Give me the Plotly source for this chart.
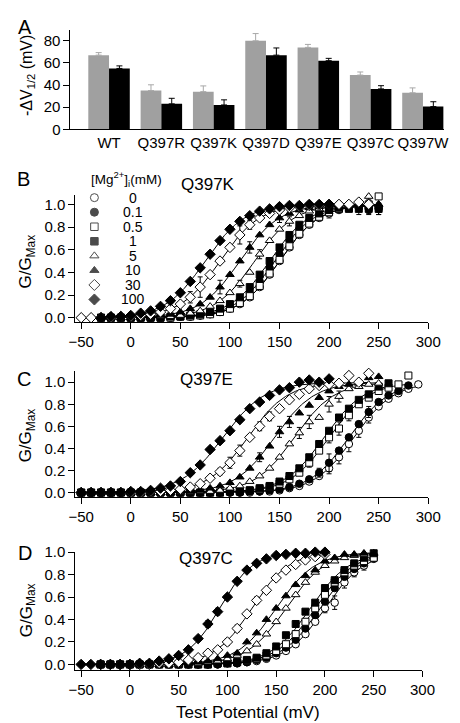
import math
import plotly.graph_objects as go

# ---------------- data ----------------
A_CATEGORIES = ['WT', 'Q397R', 'Q397K', 'Q397D', 'Q397E', 'Q397C', 'Q397W']
A_GRAY = [67, 35, 34, 80, 74, 49, 33]
A_GRAY_ERR = [2.3, 5.2, 5.2, 6.5, 2.7, 2.8, 4.4]
A_BLACK = [55, 23, 22, 67, 62, 36.5, 20.5]
A_BLACK_ERR = [2.3, 5.0, 4.6, 6.5, 2.1, 2.9, 4.4]
A_TICKS = [0, 20, 40, 60, 80]

CONC = ['0', '0.1', '0.5', '1', '5', '10', '30', '100']

# test potentials (mV)
V_B = [-30, -20, -10, 0, 10, 20, 30, 40, 50, 60, 70, 80, 90, 100, 110, 120, 130, 140,
       150, 160, 170, 180, 190, 200, 210, 220, 230, 240, 250]
V_B30 = [-50, -40, -30, -20, -10, 0, 10, 20, 30, 40, 50, 60, 70, 80, 90, 100, 110, 120,
         130, 140, 150, 160, 170, 180, 190, 200, 210, 220, 230, 240]
V_C = [-50, -40, -30, -20, -10, 0, 10, 20, 30, 40, 50, 60, 70, 80, 90, 100, 110, 120,
       130, 140, 150, 160, 170, 180, 190, 200, 210, 220, 230, 240, 250, 260, 270, 280, 290]
V_D = [-30, -20, -10, 0, 10, 20, 30, 40, 50, 60, 70, 80, 90, 100, 110, 120, 130, 140,
       150, 160, 170, 180, 190, 200, 210, 220, 230, 240, 250]
V_D100 = [-50, -40, -30, -20, -10, 0, 10, 20, 30, 40, 50, 60, 70, 80, 90, 100, 110, 120,
          130, 140, 150, 160, 170, 180, 190, 200]

# Panel B  (Q397K)  G/Gmax
G_B_0 = [0, 0, 0, 0, 0, 0, 0, 0, 0.01, 0.01, 0.02, 0.03, 0.05, 0.08, 0.12, 0.18, 0.27, 0.38,
         0.50, 0.62, 0.73, 0.82, 0.88, 0.92, 0.95, 0.97, 0.98, 0.97, 0.96]
G_B_01 = [0, 0, 0, 0, 0, 0, 0, 0, 0.01, 0.01, 0.02, 0.04, 0.06, 0.10, 0.15, 0.22, 0.32, 0.44,
          0.56, 0.68, 0.78, 0.85, 0.90, 0.94, 0.96, 0.98, 0.97, 0.96, 0.97]
G_B_05 = [0, 0, 0, 0, 0, 0, 0, 0, 0.01, 0.01, 0.02, 0.03, 0.05, 0.08, 0.13, 0.19, 0.28, 0.39,
          0.51, 0.63, 0.74, 0.83, 0.89, 0.93, 0.96, 0.97, 0.99, 1.00, 1.07]
G_B_1 = [0, 0, 0, 0, 0, 0, 0, 0.01, 0.01, 0.02, 0.03, 0.05, 0.08, 0.12, 0.18, 0.27, 0.38, 0.50,
         0.62, 0.73, 0.82, 0.88, 0.92, 0.95, 0.97, 0.96, 0.96, 0.96, 0.96]
G_B_5 = [0, 0, 0, 0, 0, 0, 0.01, 0.01, 0.02, 0.04, 0.06, 0.10, 0.15, 0.22, 0.30, 0.40, 0.56,
         0.68, 0.78, 0.85, 0.90, 0.94, 0.96, 0.98, 0.99, 0.99, 1.00, 1.07, 1.00]
G_B_10 = [0, 0, 0, 0, 0.01, 0.01, 0.02, 0.03, 0.05, 0.08, 0.12, 0.18, 0.27, 0.38, 0.50, 0.62,
          0.73, 0.82, 0.88, 0.92, 0.95, 0.97, 0.98, 0.99, 0.99, 1.00, 1.00, 1.00, 1.00]
G_B_30 = [0, 0, 0, 0, 0.01, 0.01, 0.02, 0.03, 0.05, 0.08, 0.12, 0.18, 0.27, 0.38, 0.50, 0.62,
          0.73, 0.82, 0.88, 0.92, 0.95, 0.97, 0.98, 0.99, 0.99, 1.00, 1.00, 1.00, 1.02, 1.00]
G_B_100 = [0, 0.01, 0.01, 0.02, 0.04, 0.06, 0.10, 0.15, 0.22, 0.32, 0.44, 0.56, 0.68, 0.78,
           0.85, 0.90, 0.94, 0.96, 0.98, 0.99, 0.99, 1.00, 1.00, 1.00]

# Panel C  (Q397E)
G_C_0 = [0] * 18 + [0.01, 0.01, 0.02, 0.04, 0.06, 0.10, 0.15, 0.22, 0.32, 0.44, 0.56, 0.68,
                    0.78, 0.85, 0.90, 0.94, 0.98]
G_C_01 = [0] * 17 + [0.01, 0.01, 0.02, 0.03, 0.05, 0.08, 0.12, 0.18, 0.27, 0.38, 0.50, 0.62,
                     0.73, 0.82, 0.88, 0.92, 0.97]
G_C_05 = [0] * 15 + [0.01, 0.01, 0.02, 0.03, 0.05, 0.08, 0.12, 0.18, 0.27, 0.38, 0.50, 0.58,
                     0.70, 0.80, 0.86, 0.92, 0.95, 0.98, 1.06]
G_C_1 = [0] * 15 + [0.01, 0.01, 0.02, 0.04, 0.06, 0.10, 0.15, 0.22, 0.32, 0.44, 0.56, 0.68,
                    0.76, 0.84, 0.89, 0.96, 0.99]
G_C_5 = [0] * 12 + [0.01, 0.01, 0.02, 0.04, 0.06, 0.10, 0.15, 0.22, 0.32, 0.44, 0.54, 0.64,
                    0.68, 0.80, 0.87, 0.94, 0.96, 0.98, 0.99]
G_C_10 = [0] * 10 + [0.01, 0.01, 0.02, 0.04, 0.06, 0.09, 0.14, 0.22, 0.32, 0.42, 0.55, 0.64,
                     0.72, 0.79, 0.86, 0.92, 0.96, 0.98, 0.99, 1.04, 1.05]
G_C_30 = [0] * 7 + [0.01, 0.01, 0.02, 0.03, 0.05, 0.08, 0.13, 0.19, 0.27, 0.38, 0.50, 0.60,
                    0.69, 0.76, 0.84, 0.89, 0.94, 0.97, 0.98, 0.99, 1.06, 1.00, 1.08]
G_C_100 = [0] * 5 + [0.01, 0.01, 0.02, 0.04, 0.06, 0.10, 0.18, 0.25, 0.39, 0.47, 0.56, 0.66,
                     0.76, 0.82, 0.88, 0.93, 0.95, 1.00, 1.02, 1.00, 1.03]

# Panel D  (Q397C)
G_D_0 = [0] * 13 + [0.01, 0.01, 0.02, 0.03, 0.05, 0.08, 0.12, 0.18, 0.27, 0.38, 0.50, 0.55,
                    0.73, 0.82, 0.88, 0.95]
G_D_01 = [0] * 13 + [0.01, 0.01, 0.02, 0.04, 0.06, 0.10, 0.15, 0.22, 0.32, 0.44, 0.56, 0.68,
                     0.78, 0.85, 0.90, 0.94]
G_D_05 = [0] * 12 + [0.01, 0.01, 0.02, 0.03, 0.05, 0.08, 0.12, 0.18, 0.27, 0.38, 0.50, 0.62,
                     0.73, 0.82, 0.88, 0.92, 0.95]
G_D_1 = [0] * 12 + [0.01, 0.01, 0.02, 0.04, 0.06, 0.10, 0.16, 0.26, 0.36, 0.47, 0.55, 0.68,
                    0.75, 0.84, 0.90, 0.95, 0.99]
G_D_5 = [0] * 9 + [0.01, 0.01, 0.02, 0.03, 0.05, 0.08, 0.12, 0.18, 0.27, 0.38, 0.50, 0.62,
                   0.73, 0.82, 0.88, 0.92, 0.95, 0.97, 0.98, 0.99]
G_D_10 = [0] * 8 + [0.01, 0.01, 0.02, 0.03, 0.05, 0.08, 0.10, 0.20, 0.28, 0.40, 0.50, 0.61,
                    0.71, 0.79, 0.84, 0.92, 0.95, 0.98, 0.98, 0.99, 0.99]
G_D_30 = [0] * 6 + [0.01, 0.01, 0.02, 0.04, 0.06, 0.10, 0.13, 0.20, 0.32, 0.45, 0.57, 0.66,
                    0.77, 0.84, 0.89, 0.93, 0.96, 0.98]
G_D_100 = [0] * 6 + [0.01, 0.01, 0.03, 0.05, 0.08, 0.13, 0.23, 0.36, 0.47, 0.60, 0.74, 0.84,
                     0.90, 0.94, 0.97, 0.98, 0.99, 0.99, 1.00, 1.00]

# visible error bars: (potentials, s.e.m.)
ERR_B = {'0': ([200, 240, 250], [0.04, 0.05, 0.05]),
         '1': ([230, 240, 250], [0.05, 0.05, 0.05]),
         '5': ([110, 130, 160, 240], [0.03, 0.04, 0.04, 0.03]),
         '10': ([90, 120, 150], [0.06, 0.05, 0.04]),
         '30': ([60, 70, 110, 120], [0.05, 0.09, 0.08, 0.04])}
ERR_C = {'0': ([200, 210, 220, 230, 240], [0.05, 0.06, 0.07, 0.06, 0.05]),
         '0.1': ([190, 200, 240], [0.04, 0.08, 0.05]),
         '0.5': ([180, 200, 210, 220], [0.04, 0.05, 0.06, 0.05]),
         '5': ([170, 180, 200, 210], [0.05, 0.06, 0.07, 0.05]),
         '10': ([130, 150, 160], [0.04, 0.05, 0.05]),
         '30': ([90, 100, 110, 130, 140], [0.03, 0.05, 0.05, 0.04, 0.04])}
ERR_D = {'0': ([200, 210, 220, 230, 240, 250], [0.04, 0.06, 0.05, 0.04, 0.04, 0.03]),
         '30': ([100, 110, 130], [0.03, 0.03, 0.03]),
         '100': ([80, 90], [0.03, 0.03])}

# Boltzmann fit parameters (V1/2 mV, slope mV)
FIT_B = {'0': (150, 20), '0.1': (145, 20), '0.5': (150, 20), '1': (140, 20),
         '5': (125, 20), '10': (110, 20), '30': (90, 20), '100': (75, 20)}
FIT_C = {'0': (225, 20), '0.1': (220, 20), '0.5': (200, 20), '1': (195, 20),
         '5': (165, 20), '10': (145, 20), '30': (118, 20), '100': (93, 21)}
FIT_D = {'0': (200, 20), '0.1': (195, 20), '0.5': (190, 20), '1': (185, 20),
         '5': (160, 20), '10': (150, 20), '30': (125, 19), '100': (92, 17)}

PANEL_B = {'0': (V_B, G_B_0), '0.1': (V_B, G_B_01), '0.5': (V_B, G_B_05), '1': (V_B, G_B_1),
           '5': (V_B, G_B_5), '10': (V_B, G_B_10), '30': (V_B30, G_B_30), '100': (V_B, G_B_100)}
PANEL_C = {'0': (V_C, G_C_0), '0.1': (V_C, G_C_01), '0.5': (V_C, G_C_05), '1': (V_C, G_C_1),
           '5': (V_C, G_C_5), '10': (V_C, G_C_10), '30': (V_C, G_C_30), '100': (V_C, G_C_100)}
PANEL_D = {'0': (V_D, G_D_0), '0.1': (V_D, G_D_01), '0.5': (V_D, G_D_05), '1': (V_D, G_D_1),
           '5': (V_D, G_D_5), '10': (V_D, G_D_10), '30': (V_D, G_D_30), '100': (V_D100, G_D_100)}

X_TICKS = [-50, 0, 50, 100, 150, 200, 250, 300]
Y_TICKS = [0.0, 0.2, 0.4, 0.6, 0.8, 1.0]

# ---------------- style ----------------
W, H = 460, 723
FONT = "Arial, Liberation Sans, sans-serif"


def fx(px):
    return px / W


def fy(py):
    return 1 - py / H


SYM = {'0': ('circle', False, 7.5), '0.1': ('circle', True, 7.5),
       '0.5': ('square', False, 7), '1': ('square', True, 7),
       '5': ('triangle-up', False, 7.5), '10': ('triangle-up', True, 7.5),
       '30': ('diamond', False, 8), '100': ('diamond', True, 8)}

fig = go.Figure()

# ---------- Panel A ----------
fig.add_trace(go.Bar(x=A_CATEGORIES, y=A_GRAY, xaxis='x', yaxis='y',
                     marker=dict(color='#a0a0a0', line=dict(width=0)),
                     error_y=dict(type='data', symmetric=False, array=A_GRAY_ERR,
                                  arrayminus=[0] * len(A_GRAY), color='#a8a8a8',
                                  thickness=1, width=3)))
fig.add_trace(go.Bar(x=A_CATEGORIES, y=A_BLACK, xaxis='x', yaxis='y',
                     marker=dict(color='black', line=dict(width=0)),
                     error_y=dict(type='data', symmetric=False, array=A_BLACK_ERR,
                                  arrayminus=[0] * len(A_BLACK), color='black',
                                  thickness=1, width=3)))


def add_panel(panel, fits, errs, xa, ya):
    # fit curves first
    for c in CONC:
        vs, gs = panel[c]
        vh, k = fits[c]
        v0, v1 = vs[0], vs[len(gs) - 1]
        xs = [v0 + (v1 - v0) * i / 200 for i in range(201)]
        ys = [1 / (1 + math.exp(-(v - vh) / k)) for v in xs]
        fig.add_trace(go.Scatter(x=xs, y=ys, mode='lines', xaxis=xa, yaxis=ya,
                                 cliponaxis=False,
                                 line=dict(color='black', width=1), hoverinfo='skip'))
    for c in CONC:
        vs, gs = panel[c]
        vs = vs[:len(gs)]
        sym, filled, size = SYM[c]
        ev = [0] * len(gs)
        if c in errs:
            for v, e in zip(*errs[c]):
                ev[vs.index(v)] = e
        fig.add_trace(go.Scatter(
            x=vs, y=gs, mode='markers', xaxis=xa, yaxis=ya, cliponaxis=False,
            marker=dict(symbol=sym, size=size, color='black' if filled else 'white',
                        line=dict(color='black', width=1)),
            error_y=dict(type='data', array=ev, color='black', thickness=1, width=2.5)))


add_panel(PANEL_B, FIT_B, ERR_B, 'x2', 'y2')
add_panel(PANEL_C, FIT_C, ERR_C, 'x3', 'y3')
add_panel(PANEL_D, FIT_D, ERR_D, 'x4', 'y4')

# legend (symbols + concentrations) on an auxiliary hidden axis
fig.add_trace(go.Scatter(
    x=[0] * len(CONC), y=CONC, mode='markers', xaxis='x5', yaxis='y5', cliponaxis=False,
    marker=dict(symbol=[SYM[c][0] for c in CONC], size=[SYM[c][2] + 0.5 for c in CONC],
                color=['black' if SYM[c][1] else 'white' for c in CONC],
                line=dict(color='black', width=1))))
for i, c in enumerate(CONC):
    fig.add_annotation(text=c, x=1, y=i, xref='x5', yref='y5', showarrow=False,
                       xanchor='center', yanchor='middle',
                       font=dict(family=FONT, size=14, color='black'))

tickfont = dict(family=FONT, size=15, color='black')
axis_common = dict(showline=True, linecolor='black', linewidth=1, ticks='outside',
                   ticklen=6, tickwidth=1, tickcolor='black', showgrid=False,
                   zeroline=False, tickfont=tickfont)

xa = dict(axis_common, range=[-56, 300], tickvals=X_TICKS)
ya = dict(axis_common, tickvals=Y_TICKS, ticktext=['%.1f' % t for t in Y_TICKS])

fig.update_layout(
    width=W, height=H, margin=dict(l=0, r=0, t=0, b=0),
    paper_bgcolor='white', plot_bgcolor='white', showlegend=False,
    barmode='group', bargap=0.207, bargroupgap=0,
    font=dict(family=FONT, color='black'),
    xaxis=dict(domain=[fx(58), fx(448)], anchor='y', showline=True, linecolor='black',
               linewidth=1, ticks='', showgrid=False, zeroline=False,
               tickfont=dict(family=FONT, size=15, color='black'),
               range=[-0.737, 6.393], type='category'),
    yaxis=dict(axis_common, domain=[fy(115), fy(13)], anchor='x', range=[0, 90],
               tickvals=A_TICKS),
    xaxis2=dict(xa, domain=[fx(63), fx(432)], anchor='y2'),
    yaxis2=dict(ya, domain=[fy(312), fy(182)], anchor='x2', range=[-0.035, 1.085]),
    xaxis3=dict(xa, domain=[fx(63), fx(432)], anchor='y3'),
    yaxis3=dict(ya, domain=[fy(492), fy(363)], anchor='x3', range=[-0.044, 1.097]),
    xaxis4=dict(xa, domain=[fx(63), fx(426)], anchor='y4'),
    yaxis4=dict(ya, domain=[fy(669), fy(548)], anchor='x4', range=[-0.052, 1.0]),
    xaxis5=dict(domain=[fx(83), fx(123)], anchor='y5', range=[0, 1], visible=False),
    yaxis5=dict(domain=[fy(296.75), fy(177.55)], anchor='x5', type='category',
                categoryorder='array', categoryarray=CONC, range=[7.5, -0.5], visible=False),
)


def ann(text, x, y, size, angle=0, xanchor='center'):
    fig.add_annotation(text=text, x=fx(x), y=fy(y), xref='paper', yref='paper',
                       showarrow=False, textangle=angle, xanchor=xanchor, yanchor='middle',
                       font=dict(family=FONT, size=size, color='black'))


ann('A', 10, 10, 20)
ann('B', 9, 166, 20)
ann('C', 9, 371, 20)
ann('D', 10, 549, 20)
ann('-ΔV<sub>1/2</sub> (mV)', 13, 60, 16, angle=-90)
ann('G/G<sub>Max</sub>', 13, 250, 17, angle=-90)
ann('G/G<sub>Max</sub>', 13, 428, 17, angle=-90)
ann('G/G<sub>Max</sub>', 13, 607, 17, angle=-90)
ann('Q397K', 202, 172, 17)
ann('Q397E', 200, 371, 17)
ann('Q397C', 200, 555, 17)
ann('[Mg<sup>2+</sup>]<sub>i</sub>(mM)', 117, 166, 13.5)
ann('Test Potential (mV)', 244, 712, 17)

fig.write_html("out.html")
